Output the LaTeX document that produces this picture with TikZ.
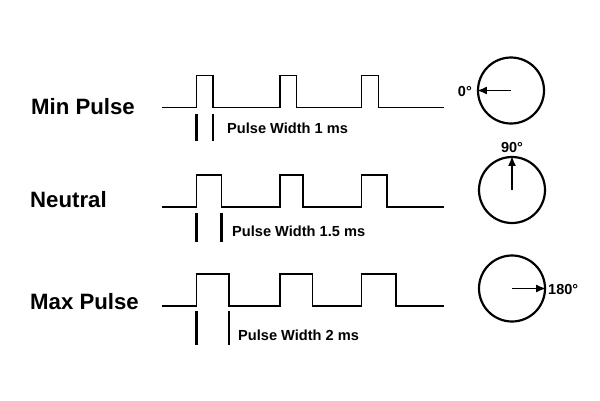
\documentclass[tikz,border=0pt]{standalone}
\usepackage{fontspec}
\setmainfont{Liberation Sans}
\usetikzlibrary{arrows.meta}
\begin{document}
\begin{tikzpicture}[x=1pt,y=-1pt,>={Latex[length=10pt,width=8pt]},line join=miter,
	row/.style={anchor=west,font=\fontsize{22.2}{24}\selectfont\bfseries,inner sep=0pt},
	width/.style={anchor=west,font=\fontsize{14.6}{16}\selectfont\bfseries,inner sep=0pt},
	angle/.style={font=\fontsize{14.5}{16}\selectfont\bfseries,inner sep=0pt},
	dial/.style={draw,circle,line width=2.2pt,minimum size=66pt,inner sep=0pt},
	wave/.style={line width=1.8pt},
	tick/.style={line width=2.2pt}]
	\useasboundingbox (0,0) rectangle (600,400);
	\node[row] (minlbl) at (31,106.7) {Min Pulse};
	\node[row] (neulbl) at (30,200) {Neutral};
	\node[row] (maxlbl) at (30,301.7) {Max Pulse};
	\draw[wave] (162,107.5)--(196.5,107.5)--(196.5,75.5)--(213,75.5)--(213,107.5)--(280,107.5)--(280,75.5)--(296.5,75.5)--(296.5,107.5)--(361.5,107.5)--(361.5,75.5)--(378.5,75.5)--(378.5,107.5)--(444,107.5);
	\draw[wave] (162,207.3)--(196.5,207.3)--(196.5,175)--(221.5,175)--(221.5,207.3)--(280,207.3)--(280,175)--(303,175)--(303,207.3)--(361.5,207.3)--(361.5,175)--(387,175)--(387,207.3)--(444,207.3);
	\draw[wave] (162,306)--(196.5,306)--(196.5,274)--(229,274)--(229,306)--(280,306)--(280,274)--(312.5,274)--(312.5,306)--(361.5,306)--(361.5,274)--(396,274)--(396,306)--(444,306);
	\draw[tick] (196.5,114)--(196.5,141) (213,114)--(213,141);
	\draw[tick] (196.5,213)--(196.5,242) (221.5,213)--(221.5,242);
	\draw[tick] (196.5,311)--(196.5,345) (229,311)--(229,345);
	\node[width] (w1) at (227,128) {Pulse Width 1 ms};
	\node[width] (w2) at (232,231.5) {Pulse Width 1.5 ms};
	\node[width] (w3) at (238,335.5) {Pulse Width 2 ms};
	\node[dial] (d1) at (511,90.5) {};
	\node[dial] (d2) at (512,190) {};
	\node[dial] (d3) at (512,288.5) {};
	\draw[wave,->] (d1.center)--(d1.west);
	\draw[wave,->] (d2.center)--(d2.north);
	\draw[wave,->] (d3.center)--(d3.east);
	\node[angle,anchor=east] (a0) at (472,91.5) {0°};
	\node[angle,anchor=south] (a90) at (512,153) {90°};
	\node[angle,anchor=west] (a180) at (548,289.5) {180°};
\end{tikzpicture}
\end{document}
